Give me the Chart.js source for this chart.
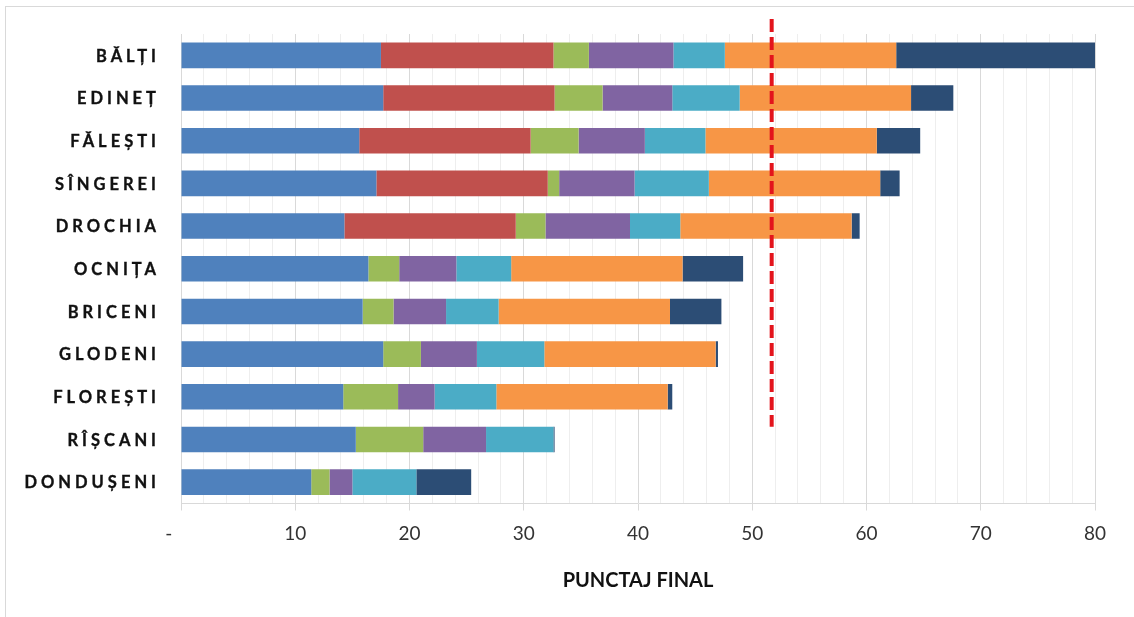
<!DOCTYPE html>
<html>
<head>
<meta charset="utf-8">
<script src="https://cdn.jsdelivr.net/npm/chart.js@4/dist/chart.umd.min.js"></script>
<style>
  html, body { margin: 0; padding: 0; background: #ffffff; }
  #wrap { position: relative; width: 1134px; height: 617px; overflow: hidden; }
</style>
</head>
<body>
<div id="wrap"><canvas id="chart" width="1134" height="617"></canvas></div>
<script>
// Raioane (categories), top to bottom
const categories = ['BĂLȚI', 'EDINEȚ', 'FĂLEȘTI', 'SÎNGEREI', 'DROCHIA', 'OCNIȚA', 'BRICENI', 'GLODENI', 'FLOREȘTI', 'RÎȘCANI', 'DONDUȘENI'];

// Score components, stacked left to right
const comp1 = [17.5, 17.7, 15.6, 17.1, 14.3, 16.4, 15.9, 17.7, 14.2, 15.3, 11.4];
const comp2 = [15.1, 15.0, 15.0, 15.0, 15.0, 0, 0, 0, 0, 0, 0];
const comp3 = [3.1, 4.2, 4.2, 1.0, 2.6, 2.7, 2.7, 3.3, 4.8, 5.9, 1.6];
const comp4 = [7.4, 6.1, 5.8, 6.6, 7.4, 5.0, 4.6, 4.9, 3.2, 5.5, 2.0];
const comp5 = [4.5, 5.9, 5.3, 6.5, 4.4, 4.8, 4.6, 5.9, 5.4, 5.9, 5.6];
const comp6 = [15.0, 15.0, 15.0, 15.0, 15.0, 15.0, 15.0, 15.0, 15.0, 0, 0];
const comp7 = [17.4, 3.7, 3.8, 1.7, 0.7, 5.3, 4.5, 0.2, 0.4, 0.1, 4.8];

// Threshold marker and its vertical extent (in category index units)
const thresholdValue = 51.7;
const thresholdFrom = -0.85;
const thresholdTo = 8.7;

// Axis range and ticks
const xMin = 0, xMax = 80, xStep = 2, xMajor = 10;
const axisTitle = 'PUNCTAJ FINAL';

const palette = ['#4f81bd', '#c0504d', '#9bbb59', '#8064a2', '#4bacc6', '#f79646', '#2c4d75'];
const series = [comp1, comp2, comp3, comp4, comp5, comp6, comp7];

const datasets = series.map((vals, i) => ({
  label: 'Componenta ' + (i + 1),
  data: vals,
  backgroundColor: palette[i],
  borderWidth: 0,
  barPercentage: 0.6,
  categoryPercentage: 1.0
}));

const frame = {
  id: 'frame',
  beforeDraw(chart) {
    const ctx = chart.ctx;
    ctx.save();
    ctx.fillStyle = '#ffffff';
    ctx.fillRect(0, 0, chart.width, chart.height);
    ctx.strokeStyle = '#d9d9d9';
    ctx.lineWidth = 1;
    ctx.strokeRect(5.5, 6.5, chart.width + 20, chart.height + 20);
    ctx.restore();
  }
};

const categoryLabels = {
  id: 'categoryLabels',
  afterDraw(chart) {
    const ctx = chart.ctx;
    const y = chart.scales.y;
    const spacing = 4;
    ctx.save();
    ctx.font = 'bold 16.5px Lato';
    ctx.fillStyle = '#111111';
    ctx.strokeStyle = '#111111';
    ctx.lineWidth = 0.35;
    ctx.textAlign = 'right';
    ctx.textBaseline = 'middle';
    if ('letterSpacing' in ctx) ctx.letterSpacing = spacing + 'px';
    categories.forEach((name, i) => {
      const py = y.getPixelForValue(i) + 1;
      ctx.fillText(name, 156 + spacing, py);
      ctx.strokeText(name, 156 + spacing, py);
    });
    ctx.restore();
  }
};

const threshold = {
  id: 'threshold',
  afterDatasetsDraw(chart) {
    const ctx = chart.ctx;
    const x = chart.scales.x.getPixelForValue(thresholdValue);
    const y0 = chart.scales.y.getPixelForValue(thresholdFrom);
    const y1 = chart.scales.y.getPixelForValue(thresholdTo);
    ctx.save();
    ctx.strokeStyle = '#e3141c';
    ctx.lineWidth = 4;
    ctx.setLineDash([13, 5]);
    ctx.beginPath();
    ctx.moveTo(x, y0);
    ctx.lineTo(x, y1);
    ctx.stroke();
    ctx.restore();
  }
};

new Chart(document.getElementById('chart'), {
  type: 'bar',
  data: { labels: categories, datasets },
  options: {
    indexAxis: 'y',
    responsive: false,
    animation: false,
    devicePixelRatio: 1,
    layout: { padding: { left: 181, right: 39, top: 34, bottom: 24.7 } },
    plugins: { legend: { display: false }, tooltip: { enabled: false } },
    scales: {
      x: {
        stacked: true,
        min: xMin,
        max: xMax,
        ticks: {
          stepSize: xStep,
          autoSkip: false,
          maxRotation: 0,
          padding: 12,
          color: '#333333',
          font: { family: 'Lato', size: 19 },
          callback: (v) => {
            if (v === 0) return '-     ';
            return v % xMajor === 0 ? String(v) : '';
          }
        },
        grid: {
          color: (c) => (c.tick && c.tick.value % xMajor === 0) ? '#d9d9d9' : '#eeeeee',
          tickColor: (c) => (c.tick && c.tick.value % xMajor === 0) ? '#d9d9d9' : 'rgba(0,0,0,0)',
          tickLength: 7,
          lineWidth: 1
        },
        border: { color: '#d9d9d9', width: 1 },
        title: {
          display: true,
          text: axisTitle,
          color: '#111111',
          font: { family: 'Lato', size: 20, weight: 'bold' },
          padding: { top: 11, bottom: 0 }
        }
      },
      y: {
        stacked: true,
        display: false
      }
    }
  },
  plugins: [frame, threshold, categoryLabels]
});
</script>
</body>
</html>
